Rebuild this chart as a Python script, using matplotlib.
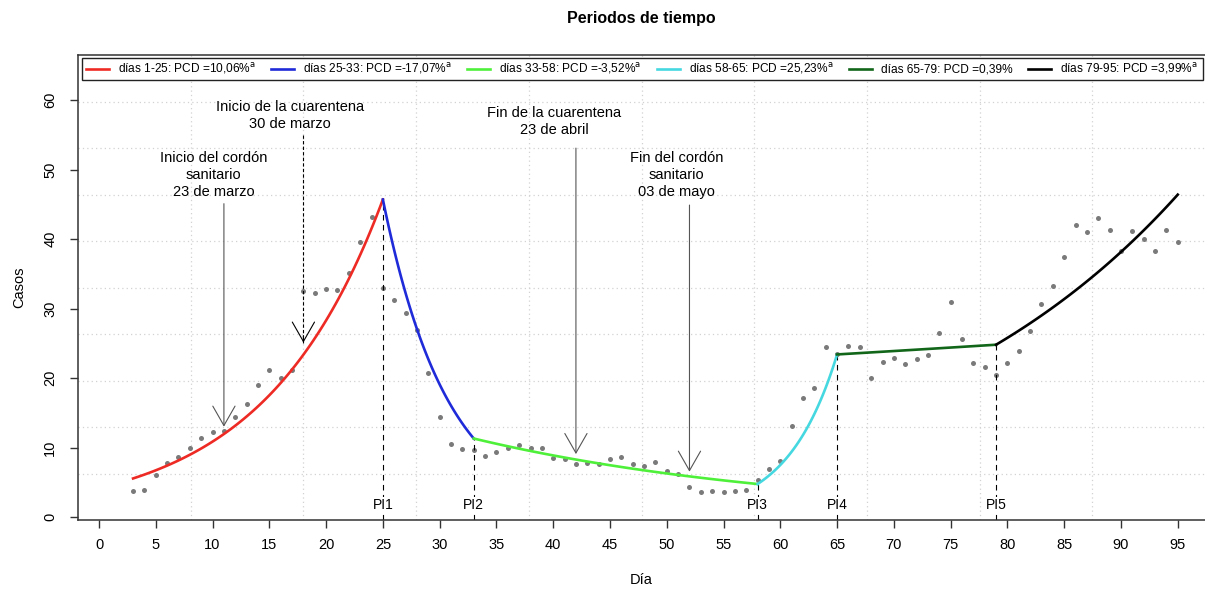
import numpy as np
import matplotlib
matplotlib.use("Agg")
import matplotlib.pyplot as plt
from matplotlib.patches import Rectangle

plt.rcParams['font.family'] = ['Liberation Sans', 'DejaVu Sans']

# observed daily cases (day 3..95)
days = list(range(3, 96))
cases = [3.74, 3.93, 6.04, 7.8, 8.63, 9.97, 11.37, 12.2, 12.4, 14.4,
         16.3, 19.0, 21.2, 20.0, 21.2, 32.5, 32.3, 32.8, 32.7, 35.1,
         39.6, 43.2, 33.0, 31.3, 29.4, 26.9, 20.7, 14.35, 10.5, 9.78,
         9.64, 8.8, 9.35, 9.93, 10.36, 9.93, 9.97, 8.5, 8.35, 7.67,
         7.77, 7.67, 8.35, 8.68, 7.63, 7.4, 7.9, 6.62, 6.14, 4.36,
         3.64, 3.79, 3.64, 3.79, 3.93, 5.37, 6.9, 8.1, 13.05, 17.2,
         18.6, 24.5, 23.4, 24.65, 24.5, 20.0, 22.35, 22.9, 22.06, 22.7,
         23.35, 26.5, 31.0, 25.6, 22.2, 21.6, 20.5, 22.2, 23.9, 26.8,
         30.6, 33.3, 37.45, 42.1, 41.05, 43.0, 41.3, 38.3, 41.2, 40.05,
         38.3, 41.3, 39.6]

# joinpoint segments: start/end day and fitted value at the joints
seg_days = [3, 25, 33, 58, 65, 79, 95]
seg_vals = [5.55, 45.7, 11.3, 4.75, 23.4, 24.8, 46.4]
seg_colors = ['#ee2a24', '#1f2bd8', '#4ff03a', '#45d8e0', '#11661a', '#000000']
seg_labels = [r'días 1-25: PCD =10,06%$^{\mathrm{a}}$',
              r'días 25-33: PCD =-17,07%$^{\mathrm{a}}$',
              r'días 33-58: PCD =-3,52%$^{\mathrm{a}}$',
              r'días 58-65: PCD =25,23%$^{\mathrm{a}}$',
              'días 65-79: PCD =0,39%',
              r'días 79-95: PCD =3,99%$^{\mathrm{a}}$']
pi_labels = ['PI1', 'PI2', 'PI3', 'PI4', 'PI5']

# event annotations: text, text position, arrow x, arrow start/end y
ev_text = ['Inicio del cordón\nsanitario\n23 de marzo',
           'Inicio de la cuarentena\n30 de marzo',
           'Fin de la cuarentena\n23 de abril',
           'Fin del cordón\nsanitario\n03 de mayo']
ev_tx = [10.1, 16.8, 40.1, 50.85]
ev_ty = [49.2, 57.8, 56.9, 49.2]
ev_ax = [11, 18, 42, 52]
ev_y0 = [45.1, 55.0, 53.1, 44.9]
ev_y1 = [13.0, 25.1, 9.06, 6.52]
ev_dashed = [False, True, False, False]

xlim = (-1.85, 97.4)
ylim = (-0.43, 66.5)

fig = plt.figure(figsize=(12.05, 5.9), dpi=100)
ax = fig.add_axes([78 / 1205, 70 / 590, 1127 / 1205, 465 / 590])
ax.set_xlim(*xlim)
ax.set_ylim(*ylim)

# R-style grid: 10 equal divisions of the plot region
for gx in np.linspace(xlim[0], xlim[1], 11)[1:-1]:
    ax.axvline(gx, color='#d2d2d2', lw=0.9, ls=(0, (1, 2.5)), zorder=0)
for gy in np.linspace(ylim[0], ylim[1], 11)[1:-1]:
    ax.axhline(gy, color='#d2d2d2', lw=0.9, ls=(0, (1, 2.5)), zorder=0)

ax.plot(days, cases, 'o', color='#7a7a7a', ms=3.6, mec='none', zorder=2)

for i in range(len(seg_colors)):
    x0, x1 = seg_days[i], seg_days[i + 1]
    v0, v1 = seg_vals[i], seg_vals[i + 1]
    xs = np.linspace(x0, x1, 80)
    ys = v0 * (v1 / v0) ** ((xs - x0) / (x1 - x0))
    ax.plot(xs, ys, color=seg_colors[i], lw=1.9, label=seg_labels[i], zorder=3)

for i, lab in enumerate(pi_labels):
    xb = seg_days[i + 1]
    ax.plot([xb, xb], [ylim[0], seg_vals[i + 1]], color='black', lw=0.8,
            ls=(0, (5, 4)), zorder=2)
    ax.text(xb, 1.75, lab, ha='center', va='center', fontsize=10,
            bbox=dict(fc='white', ec='none', pad=0.5), zorder=4)

for i in range(len(ev_text)):
    ax.text(ev_tx[i], ev_ty[i], ev_text[i], ha='center', va='center',
            fontsize=10.5, linespacing=1.25, zorder=4)
    if ev_dashed[i]:
        ax.plot([ev_ax[i], ev_ax[i]], [ev_y0[i], ev_y1[i]], color='black',
                lw=0.8, ls=(0, (3, 2)), zorder=4)
        start = ev_y1[i] + 1.0
        col = 'black'
    else:
        start = ev_y0[i]
        col = '#555555'
    ax.annotate('', xy=(ev_ax[i], ev_y1[i]), xytext=(ev_ax[i], start),
                arrowprops=dict(arrowstyle='->,head_length=0.7,head_width=0.4',
                                mutation_scale=20, color=col, lw=0.8,
                                shrinkA=0, shrinkB=0), zorder=4)

ax.set_xticks(np.arange(0, 96, 5))
ax.set_yticks(np.arange(0, 61, 10))
ax.tick_params(axis='both', direction='out', length=6, width=1,
               color='#333333', labelsize=10.5)
ax.tick_params(axis='x', pad=7)
ax.tick_params(axis='y', pad=9)
for lab in ax.get_yticklabels():
    lab.set_rotation(90)
    lab.set_va('center')

for s in ['left', 'bottom', 'top']:
    ax.spines[s].set_color('#333333')
    ax.spines[s].set_linewidth(1.1)
ax.spines['right'].set_visible(False)

ax.set_xlabel('Día', fontsize=10.5, labelpad=15)
ax.set_ylabel('Casos', fontsize=10.5, labelpad=12)
fig.text(641 / 1205, 1 - 18 / 590, 'Periodos de tiempo', ha='center',
         va='center', fontsize=11.5, fontweight='bold')

# legend entries laid out left to right, with a full-width box around them
ax.add_patch(Rectangle((0.0035, 0.946), 0.9945, 0.0475, transform=ax.transAxes,
                       fc='white', ec='#222222', lw=1.0, zorder=5))
leg = ax.legend(loc='center left', bbox_to_anchor=(0.0068, 0.970),
                ncol=6, fontsize=8.6, frameon=False,
                handlelength=1.95, handletextpad=0.72, columnspacing=1.3,
                borderpad=0, borderaxespad=0)
leg.set_zorder(6)

fig.savefig('out.png', dpi=100)
